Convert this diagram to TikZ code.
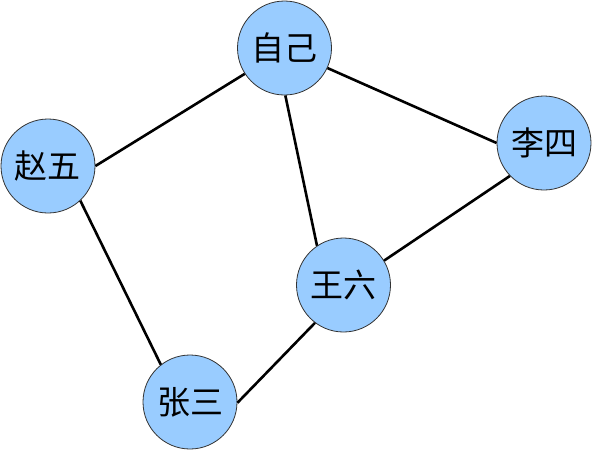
\documentclass[tikz,border=0pt]{standalone}
\usepackage{fontspec}
\newfontfamily\cjk{Noto Sans CJK SC}
\definecolor{nodefill}{HTML}{99CCFF}
\definecolor{nodeline}{HTML}{333333}
\begin{document}
\begin{tikzpicture}[x=1pt,y=-1pt,
  person/.style={circle,draw=nodeline,line width=0.8pt,fill=nodefill,minimum size=94pt,inner sep=0pt,font=\cjk\fontsize{33}{33}\selectfont},
  link/.style={line width=2.6pt,black}]
\useasboundingbox (0,0) rectangle (592,451);
\node[person] (me) at (284.5,48) {自己};
\node[person] (zhao) at (48,166) {赵五};
\node[person] (li) at (544,143) {李四};
\node[person] (wang) at (343.5,285) {王六};
\node[person] (zhang) at (190,402) {张三};
\draw[link] (zhao.0) -- (me.213);
\draw[link] (me.-25) -- (li.180);
\draw[link] (me.-89) -- (wang.124);
\draw[link] (li.224) -- (wang.31);
\draw[link] (zhao.-47) -- (zhang.128);
\draw[link] (wang.233) -- (zhang.-1);
\end{tikzpicture}
\end{document}
